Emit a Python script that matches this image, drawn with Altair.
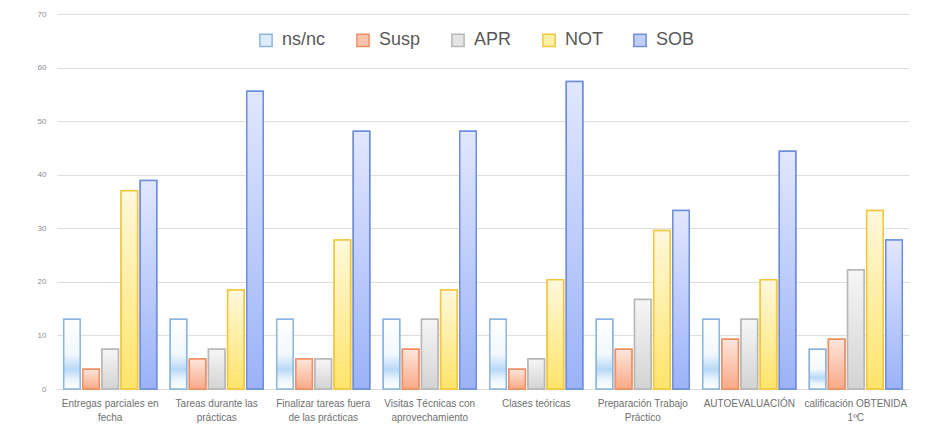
import altair as alt
import pandas as pd

categories = [
    "Entregas parciales en\nfecha",
    "Tareas durante las\nprácticas",
    "Finalizar tareas fuera\nde las prácticas",
    "Visitas Técnicas con\naprovechamiento",
    "Clases teóricas",
    "Preparación Trabajo\nPráctico",
    "AUTOEVALUACIÓN",
    "calificación OBTENIDA\n1ºC",
]
series = ["ns/nc", "Susp", "APR", "NOT", "SOB"]

ns_nc = [13.0, 13.0, 13.0, 13.0, 13.0, 13.0, 13.0, 7.4]
susp = [3.7, 5.6, 5.6, 7.4, 3.7, 7.4, 9.3, 9.3]
apr = [7.4, 7.4, 5.6, 13.0, 5.6, 16.7, 13.0, 22.2]
not_ = [37.0, 18.5, 27.8, 18.5, 20.4, 29.6, 20.4, 33.3]
sob = [38.9, 55.6, 48.1, 48.1, 57.4, 33.3, 44.4, 27.8]

values = {"ns/nc": ns_nc, "Susp": susp, "APR": apr, "NOT": not_, "SOB": sob}

rows = []
for s in series:
    for c, v in zip(categories, values[s]):
        rows.append({"categoria": c, "serie": s, "valor": v})
df = pd.DataFrame(rows)

fill_colors = ["#dcecfb", "#fbc3ab", "#e4e4e4", "#fff0a8", "#c3cffb"]
stroke_colors = ["#8db6de", "#ee8f62", "#b7b7b7", "#f3c63c", "#6f8fd9"]

gradients = {
    "ns/nc": [("#ffffff", 0), ("#f2f8fe", 0.5), ("#b8d9f7", 0.72), ("#eaf4fd", 0.86), ("#ffffff", 1)],
    "Susp": [("#fde6dc", 0), ("#f9a987", 1)],
    "APR": [("#f6f6f6", 0), ("#d3d3d3", 1)],
    "NOT": [("#fff8dc", 0), ("#ffe46a", 1)],
    "SOB": [("#e1e7fd", 0), ("#9bb2f8", 1)],
}

x_enc = alt.X(
    "categoria:N",
    sort=categories,
    scale=alt.Scale(domain=categories, paddingInner=0.127, paddingOuter=0.063),
    axis=alt.Axis(
        title=None,
        labelAngle=0,
        domain=False,
        ticks=False,
        labelColor="#6f6f6f",
        labelFontSize=10,
        labelPadding=9,
        labelLineHeight=14,
        labelExpr="split(datum.label, '\\n')",
    ),
)
xoff_enc = alt.XOffset(
    "serie:N",
    sort=series,
    scale=alt.Scale(domain=series, paddingInner=0.14, paddingOuter=0),
)
y_enc = alt.Y(
    "valor:Q",
    scale=alt.Scale(domain=[0, 70], nice=False),
    axis=alt.Axis(
        title=None,
        values=list(range(0, 71, 10)),
        domain=False,
        ticks=False,
        labelColor="#8c8c8c",
        labelFontSize=8,
        labelPadding=11,
        gridColor="#dedede",
        gridWidth=1.2,
    ),
)

base = alt.Chart(df).mark_bar(strokeWidth=1.5).encode(
    x=x_enc,
    xOffset=xoff_enc,
    y=y_enc,
    fill=alt.Fill(
        "serie:N",
        sort=series,
        scale=alt.Scale(domain=series, range=fill_colors),
        legend=alt.Legend(
            title=None,
            orient="none",
            legendX=200,
            legendY=17,
            direction="horizontal",
            labelFontSize=18,
            labelColor="#595959",
            symbolType="square",
            symbolSize=150,
            symbolStrokeWidth=1.5,
            columnPadding=27,
            labelOffset=7,
        ),
    ),
    stroke=alt.Stroke(
        "serie:N",
        sort=series,
        scale=alt.Scale(domain=series, range=stroke_colors),
        legend=alt.Legend(title=None),
    ),
)

layers = [base]
for s, sc in zip(series, stroke_colors):
    grad = alt.Gradient(
        gradient="linear",
        stops=[alt.GradientStop(color=c, offset=o) for c, o in gradients[s]],
        x1=0, x2=0, y1=0, y2=1,
    )
    layers.append(
        alt.Chart(df)
        .transform_filter(alt.datum.serie == s)
        .mark_bar(fill=grad, stroke=sc, strokeWidth=1.5)
        .encode(x=x_enc, xOffset=xoff_enc, y=y_enc)
    )

chart = (
    alt.layer(*layers)
    .properties(
        width=852,
        height=375,
        autosize=alt.AutoSizeParams(type="none"),
        padding={"left": 49, "top": 6, "right": 19, "bottom": 51},
    )
    .configure(font="Liberation Sans")
    .configure_view(stroke=None)
)

chart.save("out.html", embed_options={"renderer": "svg", "actions": False})
